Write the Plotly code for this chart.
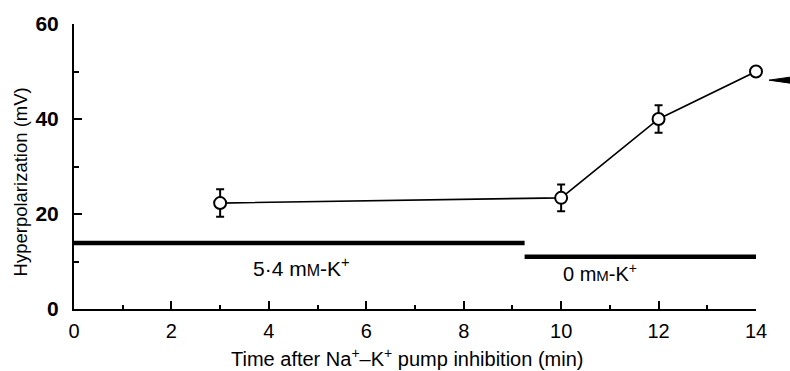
import plotly.graph_objects as go

# Data
time_min = [3, 10, 12, 14]
hyperpol_mv = [22.3, 23.4, 40.0, 50.0]
err_mv = [2.9, 2.8, 2.9, 0]

bar_54_x = [0, 9.25]
bar_54_y = [13.9, 13.9]
bar_0_x = [9.25, 14]
bar_0_y = [11.0, 11.0]

x_ticks = [0, 2, 4, 6, 8, 10, 12, 14]
y_ticks = [0, 20, 40, 60]

x_title = "Time after Na<sup>+</sup>–K<sup>+</sup> pump inhibition (min)"
y_title = "Hyperpolarization (mV)"

FONT = "Liberation Sans, Arial, sans-serif"

fig = go.Figure()

fig.add_trace(go.Scatter(x=bar_54_x, y=bar_54_y, mode="lines",
                         line=dict(color="black", width=4.5), hoverinfo="skip",
                         showlegend=False))
fig.add_trace(go.Scatter(x=bar_0_x, y=bar_0_y, mode="lines",
                         line=dict(color="black", width=4.5), hoverinfo="skip",
                         showlegend=False))

fig.add_trace(go.Scatter(
    x=time_min, y=hyperpol_mv, mode="lines+markers",
    line=dict(color="black", width=1.6),
    marker=dict(symbol="circle", size=12, color="white",
                line=dict(color="black", width=2)),
    error_y=dict(type="data", array=err_mv, visible=True, color="black",
                 thickness=2, width=4),
    showlegend=False, cliponaxis=False))

fig.add_annotation(x=4.66, y=8.9, text="5·4 m<span style='font-size:16px'>M</span>-K<sup>+</sup>",
                   showarrow=False, font=dict(family=FONT, size=21, color="black"))
fig.add_annotation(x=10.8, y=7.7, text="0 m<span style='font-size:15px'>M</span>-K<sup>+</sup>",
                   showarrow=False, font=dict(family=FONT, size=20, color="black"))

# axis titles as annotations (positioned as in the reference)
fig.add_annotation(xref="paper", yref="paper", x=0.488, y=0, yshift=-48,
                   xanchor="center", yanchor="middle", text=x_title,
                   showarrow=False, font=dict(family=FONT, size=20, color="black"))
fig.add_annotation(xref="paper", yref="paper", x=0, xshift=-54, y=0.444,
                   xanchor="center", yanchor="middle", textangle=-90, text=y_title,
                   showarrow=False, font=dict(family=FONT, size=18.5, color="black"))

# arrowhead wedge pointing at last point (paper coords, right of plot area)
fig.add_shape(type="path", xref="paper", yref="paper",
              path="M 1.0191 0.803 L 1.06 0.817 L 1.06 0.789 Z",
              fillcolor="black", line=dict(color="black", width=1))

fig.update_layout(
    width=790, height=371,
    margin=dict(l=74, r=34, t=21, b=62),
    plot_bgcolor="white", paper_bgcolor="white",
    font=dict(family=FONT, color="black"),
    xaxis=dict(range=[0, 14], tickvals=x_ticks, ticks="inside", ticklen=8,
               tickwidth=2, tickcolor="black", showline=True, linecolor="black",
               linewidth=2, showgrid=False, zeroline=False,
               tickfont=dict(size=20, family=FONT), ticklabelstandoff=3,
               minor=dict(dtick=1, ticks="inside", ticklen=4, tickwidth=2,
                          tickcolor="black", showgrid=False)),
    yaxis=dict(range=[0, 60], tickvals=y_ticks, ticks="inside", ticklen=8,
               tickwidth=2, tickcolor="black", showline=True, linecolor="black",
               linewidth=2, showgrid=False, zeroline=False,
               tickfont=dict(size=21, family=FONT, weight="bold"),
               ticklabelstandoff=9,
               minor=dict(dtick=10, ticks="inside", ticklen=5, tickwidth=2,
                          tickcolor="black", showgrid=False)),
)

fig.write_html("out.html")
